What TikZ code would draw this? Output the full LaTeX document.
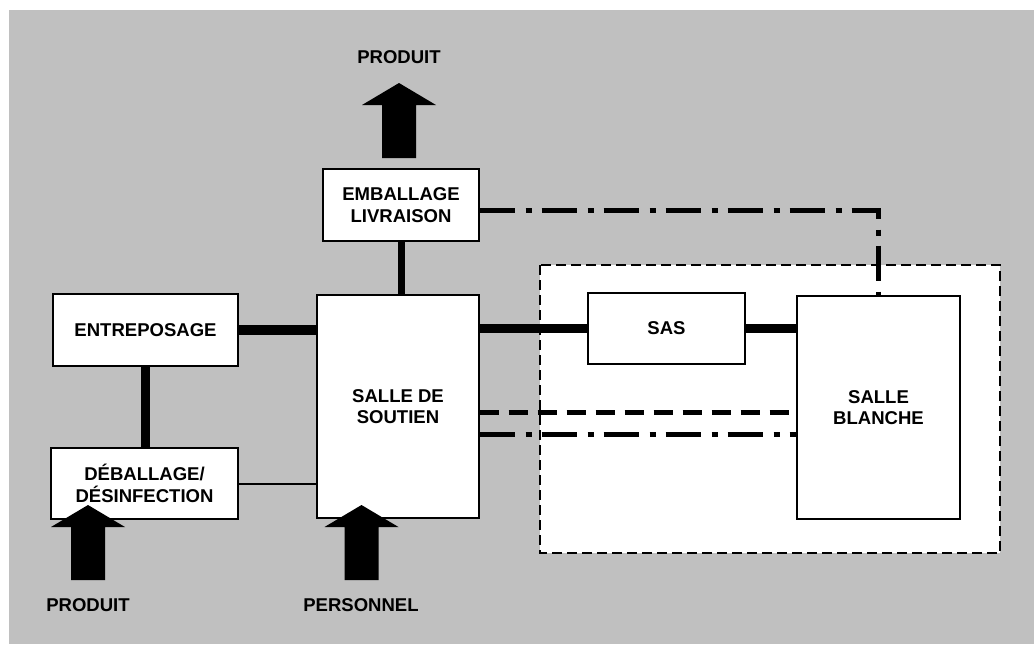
\documentclass[tikz,border=0pt]{standalone}
\usepackage{fontspec}
\setmainfont{Liberation Sans}
\usepackage{tikz}
\usetikzlibrary{calc, positioning}

\definecolor{fond}{RGB}{192,192,192}

\tikzset{
  boite/.style={draw=black, line width=1.1pt, fill=white, align=center, inner sep=0pt,
    font=\fontsize{13.9}{16.1}\selectfont\bfseries},
  legende/.style={font=\fontsize{13.9}{16.1}\selectfont\bfseries},
  lien/.style={line width=7pt},
  lienfin/.style={line width=1.5pt},
  tiret/.style={line width=3.75pt, dash pattern=on 14.25pt off 7.5pt},
  mixte/.style={line width=3.75pt, dash pattern=on 26.25pt off 8.25pt on 4.5pt off 7.5pt},
  fleche/.pic={\fill (-17,0) -- (-17,53) -- (-37,53) -- (0,75) -- (37,53) -- (17,53) -- (17,0) -- cycle;}
}

\begin{document}
\begin{tikzpicture}[x=0.75pt,y=0.75pt,yscale=-1,xscale=1]
\useasboundingbox (0,0) rectangle (1034,644);

%Shape: fond gris
\fill[fond] (9,10) rectangle (1034,644);
%Shape: zone propre (pointilles)
\draw[fill=white, line width=0.9pt, dash pattern=on 7.5pt off 3.75pt] (540,265) rectangle (1000,553);

% Boites
\node[boite, minimum width=117pt, minimum height=54pt] (emballage) at (401,205) {EMBALLAGE\\LIVRAISON};
\node[boite, minimum width=121.5pt, minimum height=167.25pt] (soutien) at (398,406.5) {SALLE DE\\SOUTIEN};
\node[boite, minimum width=138.75pt, minimum height=54pt] (entreposage) at (145.5,330) {ENTREPOSAGE};
\node[boite, minimum width=140.25pt, minimum height=53.25pt] (deballage) at (144.5,483.5) {DÉBALLAGE/\\DÉSINFECTION};
\node[boite, minimum width=117.75pt, minimum height=53.25pt] (sas) at (666.5,328.5) {SAS};
\node[boite, minimum width=122.25pt, minimum height=167.25pt] (blanche) at (878.5,407.5) {SALLE\\BLANCHE};

%Straight Lines: liaisons pleines
\draw[lien] (entreposage.east) -- (entreposage.east -| soutien.west);
\draw[lien] (soutien.east |- sas.west) -- (sas.west);
\draw[lien] (sas.east) -- (sas.east -| blanche.west);
\draw[line width=5.25pt] (emballage.south) -- (emballage.south |- soutien.north);
\draw[line width=6.75pt] (entreposage.south) -- (entreposage.south |- deballage.north);
\draw[lienfin] (deballage.east) -- (deballage.east -| soutien.west);

%Straight Lines: liaisons discontinues
\draw[tiret] ($(soutien.east)+(0,6)$) coordinate (t1) -- (t1 -| blanche.west);
\draw[mixte] ($(soutien.east)+(0,28)$) coordinate (t2) -- (t2 -| blanche.west);
\draw[mixte, line width=3.4pt] ($(emballage.east)+(0,5.5)$) -| (blanche.north);

% Grosses fleches
\pic at (399,158) {fleche};
\pic at (88,580) {fleche};
\pic at (361.5,580) {fleche};

% Text Node
\node[legende] (produitsortie) at (399,57) {PRODUIT};
% Text Node
\node[legende] (produitentree) at (88,605) {PRODUIT};
% Text Node
\node[legende] (personnel) at (361,605) {PERSONNEL};

\end{tikzpicture}
\end{document}
